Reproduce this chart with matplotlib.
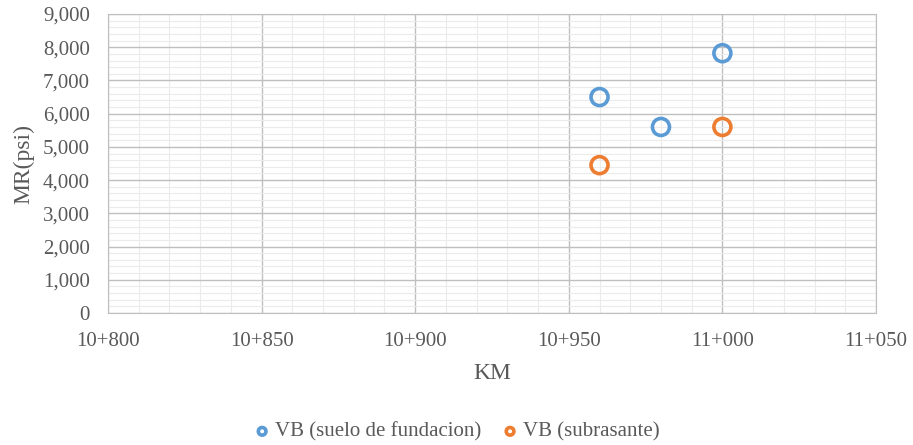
import matplotlib.pyplot as plt
from matplotlib.ticker import MultipleLocator, FuncFormatter

plt.rcParams['font.family'] = ['Liberation Serif', 'DejaVu Serif']

# data
km_fundacion = [10960, 10980, 11000]
mr_fundacion = [6500, 5600, 7820]
km_subrasante = [10960, 11000]
mr_subrasante = [4450, 5600]

blue = '#5b9bd5'
orange = '#ed7d31'
txt = '#595959'

fig = plt.figure(figsize=(9.13, 4.45), dpi=100)
ax = fig.add_axes([108 / 913, 1 - 313 / 445, (876 - 108) / 913, (313 - 14) / 445])

ax.scatter(km_fundacion, mr_fundacion, s=150, facecolors='none', edgecolors=blue,
           linewidths=2.6, label='VB (suelo de fundacion)', zorder=3)
ax.scatter(km_subrasante, mr_subrasante, s=150, facecolors='none', edgecolors=orange,
           linewidths=2.6, label='VB (subrasante)', zorder=3)

ax.set_xlim(10800, 11050)
ax.set_ylim(0, 9000)
ax.xaxis.set_major_locator(MultipleLocator(50))
ax.xaxis.set_minor_locator(MultipleLocator(10))
ax.yaxis.set_major_locator(MultipleLocator(1000))
ax.yaxis.set_minor_locator(MultipleLocator(200))
ax.xaxis.set_major_formatter(FuncFormatter(lambda v, p: '{}+{:03d}'.format(int(round(v)) // 1000, int(round(v)) % 1000)))
ax.yaxis.set_major_formatter(FuncFormatter(lambda v, p: '{:,.0f}'.format(v)))

ax.grid(which='major', color='#bfbfbf', linewidth=1.0)
ax.grid(which='minor', color='#ebebeb', linewidth=0.8)
ax.set_axisbelow(True)
for s in ax.spines.values():
    s.set_color('#bfbfbf')
ax.tick_params(which='both', length=0, labelsize=15, colors=txt)
ax.tick_params(axis='y', pad=13)
ax.tick_params(axis='x', pad=14)

ax.set_xlabel('KM', fontsize=17, color=txt, labelpad=8)
ax.set_ylabel('MR(psi)', fontsize=17, color=txt, labelpad=6)

fig.legend(loc='center', bbox_to_anchor=(0.5, 1 - 432 / 445), ncol=2, frameon=False,
           fontsize=15, labelcolor=txt, handlelength=0.8, handletextpad=0.2,
           columnspacing=1.0, markerscale=0.45, borderpad=0)

fig.savefig('out.png', dpi=100)
